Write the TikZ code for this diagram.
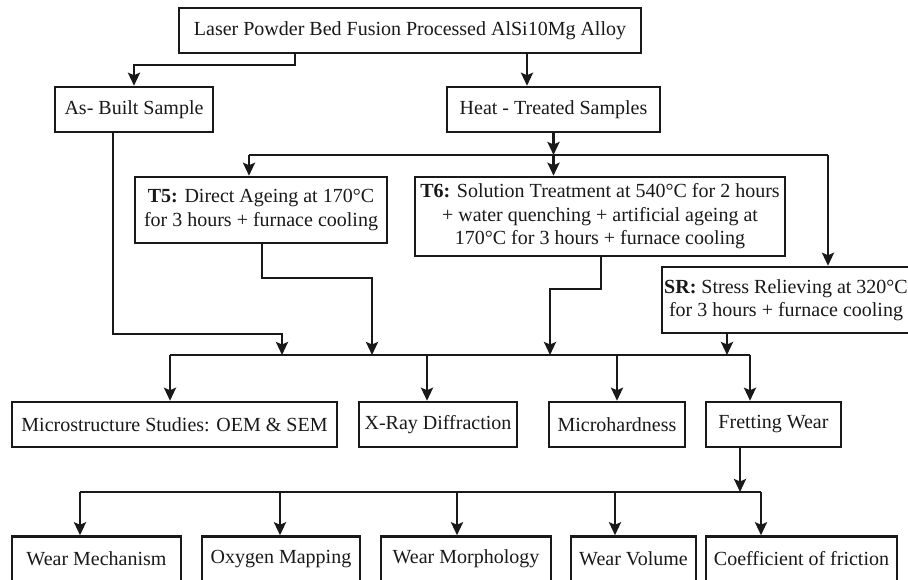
\documentclass[tikz,border=0pt]{standalone}
\usepackage{fontspec}
\setmainfont{Liberation Serif}
\usetikzlibrary{arrows.meta}
\tikzset{
  box/.style={draw=black!90, line width=2.5pt, fill=white, inner sep=0pt, align=center,
    font=\fontsize{20}{23.5}\selectfont, text=black!90},
  boxtext/.style={inner sep=0pt, align=center, font=\fontsize{20}{23.5}\selectfont, text=black!90},
  conn/.style={draw=black!90, line width=2.5pt},
  arr/.style={conn, -{Stealth[length=13pt,width=12pt,inset=2.5pt]}},
}
\begin{document}
\begin{tikzpicture}[x=1pt,y=-1pt]
\path[use as bounding box] (0,0) rectangle (908,579);
\clip (0,0) rectangle (908,579);
% level 1-2
\node[box, minimum width=462pt, minimum height=45pt] (top) at (410,30.5) {Laser Powder Bed Fusion Processed AlSi10Mg Alloy};
\node[box, minimum width=158pt, minimum height=45pt] (asbuilt) at (134,109.5) {As- Built Sample};
\node[box, minimum width=213pt, minimum height=45pt] (heat) at (553.5,109.5) {Heat - Treated Samples};
% treatments
\node[box, minimum width=252pt, minimum height=66pt] (t5) at (261,210) {\textbf{T5:} Direct Ageing at 170°C\\for 3 hours + furnace cooling};
\node[box, minimum width=370pt, minimum height=79pt] (t6) at (600,216.5) {\textbf{T6:} Solution Treatment at 540°C for 2 hours\\+ water quenching + artificial ageing at\\170°C for 3 hours + furnace cooling};
\node[box, minimum width=260pt, minimum height=66pt] (sr) at (792,300) {};
\node[boxtext] (srt) at (786,300) {\textbf{SR:} Stress Relieving at 320°C\\for 3 hours + furnace cooling};
% studies
\node[box, minimum width=325pt, minimum height=45pt] (micro) at (174.5,424.5) {Microstructure Studies: OEM \& SEM};
\node[box, minimum width=158pt, minimum height=45pt] (xray) at (438,424.5) {X-Ray Diffraction};
\node[box, minimum width=136pt, minimum height=45pt] (mh) at (617,424.5) {Microhardness};
\node[box, minimum width=135pt, minimum height=45pt] (fw) at (773.5,424.5) {Fretting Wear};
% wear results
\node[box, minimum width=169pt, minimum height=45pt] (wm) at (96.5,559) {Wear Mechanism};
\node[box, minimum width=158pt, minimum height=45pt] (om) at (281,559) {Oxygen Mapping};
\node[box, minimum width=170pt, minimum height=45pt] (wmo) at (466,559) {Wear Morphology};
\node[box, minimum width=125pt, minimum height=45pt] (wv) at (633.5,559) {Wear Volume};
\node[box, minimum width=191pt, minimum height=45pt] (cof) at (801.5,559) {Coefficient of friction};
% coordinates
\coordinate (j1) at (295,65);
\coordinate (j2) at (527,65);
\coordinate (hb) at (553.5,155);
\coordinate (hbL) at (249,155);
\coordinate (hbR) at (828,155);
\coordinate (a1) at (282,334);
\coordinate (m1) at (282,355);
\coordinate (t5x) at (262,0);
\coordinate (b1) at (372,278);
\coordinate (m2) at (372,355);
\coordinate (t6x) at (601,0);
\coordinate (c1) at (550,289);
\coordinate (m3) at (550,355);
\coordinate (m4) at (727,355);
\coordinate (abx) at (113,0);
\coordinate (mL) at (170,355);
\coordinate (mR) at (750,355);
\coordinate (mX) at (427,355);
\coordinate (mM) at (617,355);
\coordinate (fb) at (740,492);
\coordinate (bL) at (80,492);
\coordinate (bR) at (761,492);
\coordinate (b2) at (280,492);
\coordinate (b3) at (457,492);
\coordinate (b4) at (615,492);
% connectors level 1
\draw[arr] (top.south -| j1) -- (j1) -| (asbuilt.north);
\draw[arr] (top.south -| j2) -- (j2 |- heat.north);
% heat treated branch
\draw[arr] (heat.south -| hb) -- (hb);
\draw[conn] (hbL) -- (hbR);
\draw[arr] (hbL) -- (hbL |- t5.north);
\draw[arr] (hb) -- (hb |- t6.north);
\draw[arr] (hbR) -- (hbR |- sr.north);
% merge
\draw[arr] (asbuilt.south -| abx) |- (a1) -- (m1);
\draw[arr] (t5.south -| t5x) |- (b1) -- (m2);
\draw[arr] (t6.south -| t6x) |- (c1) -- (m3);
\draw[arr] (sr.south -| m4) -- (m4);
\draw[conn] (mL) -- (mR);
\draw[arr] (mL) -- (mL |- micro.north);
\draw[arr] (mX) -- (mX |- xray.north);
\draw[arr] (mM) -- (mM |- mh.north);
\draw[arr] (mR) -- (mR |- fw.north);
% fretting wear branch
\draw[arr] (fw.south -| fb) -- (fb);
\draw[conn] (bL) -- (bR);
\draw[arr] (bL) -- (bL |- wm.north);
\draw[arr] (b2) -- (b2 |- om.north);
\draw[arr] (b3) -- (b3 |- wmo.north);
\draw[arr] (b4) -- (b4 |- wv.north);
\draw[arr] (bR) -- (bR |- cof.north);
\end{tikzpicture}
\end{document}
